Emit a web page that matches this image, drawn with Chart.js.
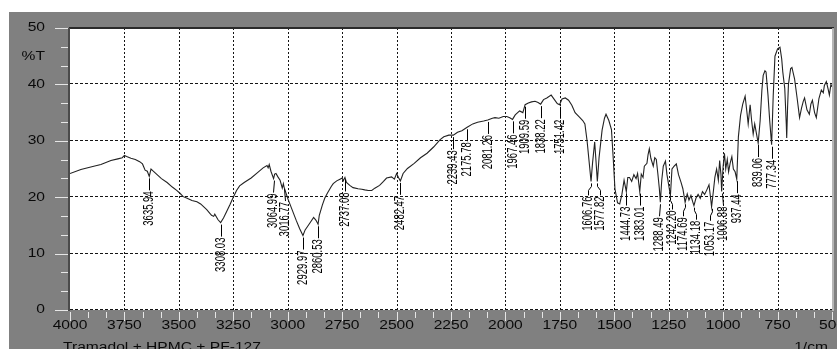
<!DOCTYPE html>
<html>
<head>
<meta charset="utf-8">
<script src="https://cdn.jsdelivr.net/npm/chart.js@4/dist/chart.umd.min.js"></script>
<style>
  html, body { margin: 0; padding: 0; background: #ffffff; }
  canvas { display: block; }
</style>
</head>
<body>
<canvas id="spectrum" width="837" height="349"></canvas>
<script>
// IR transmittance spectrum: wavenumber (1/cm) against %T
const wavenumbers = [
  4000, 3950, 3900, 3858, 3812, 3780, 3760, 3750, 3740, 3720,
  3700, 3680, 3667, 3655, 3645, 3635.94, 3628, 3620, 3600, 3580,
  3554, 3530, 3510, 3495, 3480, 3462, 3440, 3417, 3400, 3372,
  3350, 3340, 3335, 3320, 3308.03, 3295, 3281, 3265, 3250, 3235,
  3221, 3200, 3168, 3140, 3113, 3095, 3090, 3085, 3077, 3064.99,
  3060, 3054, 3045, 3035, 3025, 3020, 3016.77, 3010, 3000, 2980,
  2960, 2945, 2929.97, 2920, 2909, 2895, 2881, 2870, 2860.53, 2855,
  2841, 2830, 2818, 2800, 2791, 2775, 2760, 2750, 2745, 2737.08,
  2730, 2715, 2700, 2677, 2660, 2646, 2630, 2614, 2600, 2578,
  2560, 2546, 2523, 2510, 2500, 2490, 2482.47, 2470, 2450, 2419,
  2390, 2360, 2330, 2300, 2283, 2260, 2239.43, 2220, 2200, 2175.78,
  2150, 2128, 2100, 2081.26, 2060, 2048, 2030, 2010, 1994, 1980,
  1967.46, 1955, 1935, 1920, 1909.59, 1895, 1880, 1864, 1850, 1838.22,
  1825, 1810, 1790, 1775, 1762, 1751.42, 1740, 1725, 1710, 1695,
  1680, 1660, 1645, 1635, 1625, 1606.76, 1600, 1590, 1585, 1577.82,
  1570, 1556, 1545, 1538, 1525, 1513, 1505, 1497, 1485, 1475,
  1465, 1455, 1444.73, 1438, 1430, 1420, 1410, 1400, 1393, 1383.01,
  1376, 1368, 1362, 1350, 1345, 1339, 1332, 1321, 1314, 1307,
  1300, 1293, 1288.49, 1282, 1275, 1265, 1258, 1242.20, 1235, 1225,
  1215, 1205, 1193, 1185, 1174.69, 1165, 1157, 1148, 1140, 1134.18,
  1125, 1115, 1105, 1095, 1085, 1075, 1065, 1058, 1053.17, 1045,
  1038, 1030, 1022, 1016, 1010, 1006.88, 1000, 994, 988, 981,
  975, 968, 960, 953, 945, 937.44, 930, 920, 910, 899,
  892, 885, 876, 869, 862, 855, 848, 839.06, 830, 822,
  816, 808, 803, 794, 786, 777.34, 770, 762, 750, 739,
  731, 726, 717, 710, 708, 704, 700, 690, 684, 672,
  660, 649, 640, 632, 626, 615, 604, 597, 590, 580,
  572, 560, 549, 540, 535, 526, 518, 512, 505, 500
];

const transmittance = [
  24.2, 24.9, 25.4, 25.8, 26.5, 26.8, 27.0, 27.4, 27.2, 26.9,
  26.7, 26.3, 25.9, 24.8, 24.6, 23.7, 25.0, 24.7, 24.0, 23.3,
  22.6, 21.8, 21.2, 20.7, 20.1, 19.8, 19.4, 19.2, 18.8, 17.8,
  16.8, 16.6, 17.0, 16.0, 15.5, 16.3, 17.4, 18.7, 20.0, 21.2,
  22.0, 22.6, 23.4, 24.3, 25.2, 25.6, 25.2, 25.8, 24.6, 23.3,
  24.1, 24.2, 23.6, 23.0, 21.6, 22.4, 21.8, 21.0, 19.8, 17.8,
  15.8, 14.4, 13.2, 14.2, 14.8, 15.6, 16.4, 15.9, 15.2, 16.8,
  18.6, 19.8, 20.7, 21.9, 22.4, 22.9, 23.2, 23.4, 22.9, 23.5,
  22.6, 22.1, 21.7, 21.5, 21.4, 21.3, 21.2, 21.2, 21.6, 22.1,
  22.8, 23.4, 23.6, 23.2, 24.2, 23.4, 22.9, 24.2, 25.1, 26.0,
  27.0, 27.8, 28.9, 30.2, 30.7, 31.0, 31.0, 31.5, 31.8, 32.4,
  33.0, 33.3, 33.5, 33.7, 34.0, 34.1, 34.0, 34.3, 34.3, 34.1,
  33.8, 34.6, 35.3, 35.0, 36.4, 36.7, 36.9, 37.0, 36.8, 36.5,
  37.3, 37.6, 38.1, 37.3, 36.6, 36.4, 37.4, 37.6, 37.2, 36.3,
  35.0, 34.2, 33.6, 33.0, 30.0, 22.8, 26.0, 29.8, 27.0, 22.8,
  27.0, 31.9, 34.0, 34.7, 33.6, 32.0, 27.0, 21.5, 19.0, 18.8,
  20.5, 23.0, 21.0, 23.5, 23.5, 22.8, 24.0, 23.3, 24.2, 21.0,
  24.1, 23.5, 25.5, 26.0, 27.5, 28.6, 26.9, 25.5, 27.0, 26.7,
  24.2, 21.5, 19.1, 23.0, 25.5, 26.4, 24.0, 20.3, 25.0, 25.5,
  25.9, 24.0, 22.6, 21.5, 19.1, 20.6, 19.5, 20.3, 19.2, 18.5,
  19.8, 20.5, 19.8, 21.0, 20.5, 21.3, 22.2, 20.0, 18.3, 21.0,
  23.5, 25.0, 23.0, 26.5, 24.0, 21.0, 25.5, 27.8, 25.0, 26.7,
  24.5, 26.0, 27.2, 25.0, 24.5, 23.2, 30.7, 34.5, 36.5, 37.9,
  35.5, 33.0, 36.4, 33.5, 31.2, 33.0, 31.5, 29.6, 33.6, 39.0,
  41.6, 42.4, 42.2, 38.1, 33.5, 29.3, 38.0, 45.0, 46.3, 46.6,
  44.5, 42.2, 39.3, 33.0, 30.5, 36.0, 40.0, 42.8, 43.0, 41.0,
  37.5, 34.1, 35.8, 37.0, 37.6, 35.5, 34.7, 36.5, 37.2, 35.0,
  34.1, 37.5, 39.0, 38.5, 39.8, 40.5, 39.2, 38.1, 40.0, 39.6
];

// Peak-picked wavenumbers (each one is also a point of the spectrum above)
const peakWavenumbers = [
  3635.94, 3308.03, 3064.99, 3016.77, 2929.97, 2860.53, 2737.08, 2482.47,
  2239.43, 2175.78, 2081.26, 1967.46, 1909.59, 1838.22, 1751.42,
  1606.76, 1577.82, 1444.73, 1383.01, 1288.49, 1242.20, 1174.69, 1134.18,
  1053.17, 1006.88, 937.44, 839.06, 777.34
];

const xTickLabels = ['4000', '3750', '3500', '3250', '3000', '2750', '2500', '2250',
                     '2000', '1750', '1500', '1250', '1000', '750', '500'];
const yTickLabels = ['0', '10', '20', '30', '40', '50'];
const yUnitLabel = '%T';
const yUnitValue = 45;
const xUnitLabel = '1/cm';
const sampleName = 'Tramadol + HPMC + PF-127';

const PANEL_GREY = '#808080';
const TEXT_FONT = '12px "Liberation Sans", Arial, sans-serif';
const TEXT_STRETCH = 1.3;
const PEAK_LABEL_GAP = 12.5;

function wideText(ctx, text, x, y, align, baseline) {
  ctx.save();
  ctx.translate(x, y);
  ctx.scale(TEXT_STRETCH, 1);
  ctx.textAlign = align;
  ctx.textBaseline = baseline;
  ctx.fillText(text, 0, 0);
  ctx.restore();
}

// Spread crowded peak labels so neighbouring texts do not overlap
function spreadLabels(xs, gap) {
  const out = xs.slice();
  let start = 0;
  while (start < xs.length) {
    let end = start;
    while (end + 1 < xs.length && xs[end + 1] - xs[end] < gap) end++;
    if (end > start) {
      const n = end - start + 1;
      let mean = 0;
      for (let k = start; k <= end; k++) mean += xs[k];
      mean /= n;
      for (let k = start; k <= end; k++) out[k] = mean + (k - start - (n - 1) / 2) * gap;
    }
    start = end + 1;
  }
  return out;
}

const spectrumFrame = {
  id: 'spectrumFrame',
  beforeDraw(chart) {
    const { ctx, chartArea: a, width, height } = chart;
    ctx.save();
    ctx.fillStyle = '#ffffff';
    ctx.fillRect(0, 0, width, height);
    ctx.fillStyle = PANEL_GREY;
    ctx.fillRect(9, 12, width - 9, height - 12);
    ctx.fillStyle = '#ffffff';
    ctx.fillRect(a.left, a.top, a.right - a.left, a.bottom - a.top);
    ctx.restore();
  },
  beforeDatasetsDraw(chart) {
    const { ctx, chartArea: a, scales: { x, y } } = chart;
    ctx.save();
    ctx.strokeStyle = '#151515';
    ctx.lineWidth = 1;
    // horizontal dashed grid
    ctx.setLineDash([3, 2]);
    yTickLabels.forEach(t => {
      const v = Number(t);
      if (v >= y.max) return;
      const py = Math.round(y.getPixelForValue(v)) - 0.5;
      ctx.beginPath();
      ctx.moveTo(a.left, py);
      ctx.lineTo(a.right, py);
      ctx.stroke();
    });
    // vertical dotted grid
    ctx.setLineDash([2, 2]);
    xTickLabels.forEach(t => {
      const v = Number(t);
      if (v <= x.min || v >= x.max) return;
      const px = Math.round(x.getPixelForValue(v)) + 0.5;
      ctx.beginPath();
      ctx.moveTo(px, a.top);
      ctx.lineTo(px, a.bottom);
      ctx.stroke();
    });
    ctx.restore();
  },
  afterDatasetsDraw(chart) {
    const { ctx, chartArea: a, scales: { x, y } } = chart;
    ctx.save();
    // plot frame
    ctx.setLineDash([]);
    ctx.strokeStyle = '#2a2a2a';
    ctx.lineWidth = 2;
    ctx.beginPath();
    ctx.moveTo(a.left - 1, a.top);
    ctx.lineTo(a.right + 2, a.top);
    ctx.stroke();
    ctx.strokeStyle = '#4a4a4a';
    ctx.beginPath();
    ctx.moveTo(a.left - 1, a.top);
    ctx.lineTo(a.left - 1, a.bottom + 1);
    ctx.stroke();
    ctx.strokeStyle = '#c8c8c8';
    ctx.lineWidth = 1.5;
    ctx.beginPath();
    ctx.moveTo(a.right + 1, a.top);
    ctx.lineTo(a.right + 1, a.bottom + 1);
    ctx.stroke();

    // tick marks on the grey panel
    ctx.strokeStyle = '#e6e6e6';
    ctx.lineWidth = 1;
    const yStep = 10 / 3;
    for (let k = 0; k <= 15; k++) {
      const py = Math.round(y.getPixelForValue(k * yStep)) + 0.5;
      const len = k % 3 === 0 ? 13 : 7;
      ctx.beginPath();
      ctx.moveTo(a.left - 2, py);
      ctx.lineTo(a.left - 2 - len, py);
      ctx.stroke();
    }
    const xStep = 250 / 3;
    for (let k = 0; k <= 42; k++) {
      const px = Math.round(x.getPixelForValue(x.min + k * xStep)) + 0.5;
      const len = k % 3 === 0 ? 9 : 6;
      ctx.beginPath();
      ctx.moveTo(px, a.bottom + 2);
      ctx.lineTo(px, a.bottom + 2 + len);
      ctx.stroke();
    }

    // peak annotations: leader line plus vertical wavenumber text
    ctx.strokeStyle = '#000000';
    ctx.fillStyle = '#000000';
    ctx.lineWidth = 1;
    ctx.font = '10px "Liberation Sans", Arial, sans-serif';
    const peaks = peakWavenumbers
      .map(w => ({ w, i: wavenumbers.indexOf(w) }))
      .filter(p => p.i >= 0)
      .map(p => ({ w: p.w, px: x.getPixelForValue(p.w), py: y.getPixelForValue(transmittance[p.i]) }));
    const labelXs = spreadLabels(peaks.map(p => p.px), PEAK_LABEL_GAP);
    peaks.forEach((p, k) => {
      const px = Math.round(p.px) + 0.5;
      const lx = Math.round(labelXs[k]) + 0.5;
      ctx.beginPath();
      ctx.moveTo(px, p.py + 2);
      if (Math.abs(lx - px) > 1) {
        ctx.lineTo(px, p.py + 5);
        ctx.lineTo(lx, p.py + 9);
      }
      ctx.lineTo(lx, p.py + 14);
      ctx.stroke();
      ctx.save();
      ctx.translate(lx, p.py + 15);
      ctx.rotate(-Math.PI / 2);
      ctx.scale(0.95, 1.4);
      ctx.textAlign = 'right';
      ctx.textBaseline = 'middle';
      ctx.fillText(p.w.toFixed(2), 0, 0);
      ctx.restore();
    });
    ctx.restore();
  },
  afterDraw(chart) {
    const { ctx, chartArea: a, scales: { x, y } } = chart;
    ctx.save();
    ctx.fillStyle = '#0a0a0a';
    ctx.font = TEXT_FONT;
    yTickLabels.forEach(t => {
      wideText(ctx, t, 45, y.getPixelForValue(Number(t)), 'right', 'middle');
    });
    wideText(ctx, yUnitLabel, 45, y.getPixelForValue(yUnitValue), 'right', 'middle');
    xTickLabels.forEach(t => {
      wideText(ctx, t, x.getPixelForValue(Number(t)), a.bottom + 15.5, 'center', 'middle');
    });
    wideText(ctx, sampleName, 63, 351, 'left', 'alphabetic');
    wideText(ctx, xUnitLabel, 828, 351, 'right', 'alphabetic');
    ctx.restore();
  }
};

new Chart(document.getElementById('spectrum').getContext('2d'), {
  type: 'line',
  data: {
    datasets: [{
      data: wavenumbers.map((w, i) => ({ x: w, y: transmittance[i] })),
      borderColor: '#222222',
      borderWidth: 1.1,
      pointRadius: 0,
      tension: 0,
      fill: false
    }]
  },
  options: {
    responsive: false,
    animation: false,
    devicePixelRatio: 1,
    layout: { padding: { left: 62, top: 28, right: 5, bottom: 31 } },
    plugins: { legend: { display: false }, tooltip: { enabled: false } },
    scales: {
      x: {
        type: 'linear', min: 500, max: 4000, reverse: true,
        ticks: { display: false, stepSize: 250 },
        grid: { display: false },
        border: { display: false }
      },
      y: {
        type: 'linear', min: 0, max: 50,
        ticks: { display: false, stepSize: 10 },
        grid: { display: false },
        border: { display: false }
      }
    }
  },
  plugins: [spectrumFrame]
});
</script>
</body>
</html>
